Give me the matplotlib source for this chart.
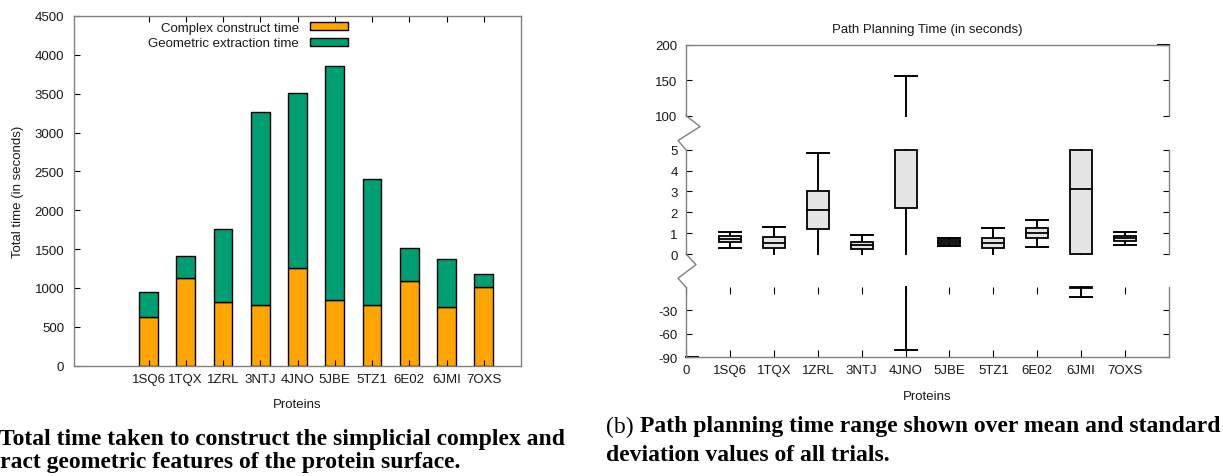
import numpy as np
import matplotlib.pyplot as plt
from matplotlib.patches import Rectangle, Patch
from matplotlib.lines import Line2D

plt.rcParams['font.family'] = ['Liberation Sans', 'DejaVu Sans']
plt.rcParams['font.size'] = 9.5
plt.rcParams['axes.unicode_minus'] = False
plt.rcParams['text.color'] = '#1a1a1a'
plt.rcParams['xtick.color'] = 'k'
plt.rcParams['ytick.color'] = 'k'
plt.rcParams['xtick.labelcolor'] = '#1a1a1a'
plt.rcParams['ytick.labelcolor'] = '#1a1a1a'

proteins = ["1SQ6", "1TQX", "1ZRL", "3NTJ", "4JNO", "5JBE", "5TZ1", "6E02", "6JMI", "7OXS"]

# (a) stacked times, seconds
construct_time = [631, 1134, 816, 777, 1258, 842, 777, 1095, 751, 1009]
extract_time = [314, 283, 949, 2482, 2246, 3014, 1628, 425, 619, 167]

# (b) path planning time stats, seconds
whisker_low = [0.30, -0.3, -0.3, -0.3, -80.6, 0.37, -0.3, 0.35, -13.8, 0.42]
box_low = [0.56, 0.27, 1.20, 0.24, 2.20, 0.48, 0.27, 0.75, -2.3, 0.62]
median = [0.72, 0.54, 2.11, 0.43, 30.0, 0.58, 0.53, 0.99, 3.12, 0.77]
box_high = [0.85, 0.81, 3.02, 0.56, 60.0, 0.67, 0.78, 1.23, 9.0, 0.88]
whisker_high = [1.07, 1.31, 4.86, 0.89, 156.0, 0.78, 1.26, 1.65, 20.0, 1.07]

W, H = 1223, 477
SPINE = '#808080'
fig = plt.figure(figsize=(W / 100, H / 100), dpi=100)


def place(x0, y0, x1, y1):
    return [x0 / W, 1 - y1 / H, (x1 - x0) / W, (y1 - y0) / H]


# ---------- (a) stacked bars ----------
ax1 = fig.add_axes(place(74, 17, 521, 366.7))
x = np.arange(len(proteins))
ax1.bar(x, construct_time, 0.5, color='#ffa500', edgecolor='k', lw=1)
ax1.bar(x, extract_time, 0.5, bottom=construct_time, color='#009e73', edgecolor='k', lw=1)
ax1.set_xlim(-2, 10)
ax1.set_ylim(0, 4500)
ax1.set_yticks(np.arange(0, 4501, 500))
ax1.set_xticks(x)
ax1.set_xticklabels(proteins)
ax1.tick_params(direction='in', length=4, top=True, right=False, pad=5)
ax1.tick_params(axis='y', pad=7)
for s in ax1.spines.values():
    s.set_color(SPINE)
    s.set_linewidth(1)

handles = [Patch(fc='#ffa500', ec='k', lw=1), Patch(fc='#009e73', ec='k', lw=1)]
ax1.legend(handles, ['Complex construct time', 'Geometric extraction time'],
           loc='upper right', bbox_to_anchor=(348 / W, 1 - 23 / H),
           bbox_transform=fig.transFigure, frameon=False, markerfirst=False,
           handlelength=2.9, handleheight=0.55, handletextpad=0.8,
           labelspacing=0.25, borderpad=0, borderaxespad=0)

fig.text(18 / W, 1 - 191.8 / H, 'Total time (in seconds)', rotation=90, ha='center', va='center')
fig.text(297.5 / W, 1 - 405 / H, 'Proteins', ha='center', va='center')

# ---------- (b) broken-axis box plot ----------
top = fig.add_axes(place(686, 45.7, 1169, 116.7))
mid = fig.add_axes(place(686, 150.7, 1169, 255))
bot = fig.add_axes(place(686, 288.3, 1169, 358.3))
panels = [(top, 100, 200, [100, 150, 200]),
          (mid, 0, 5, [0, 1, 2, 3, 4, 5]),
          (bot, -90, -1, [-30, -60, -90])]
pos = np.arange(1, len(proteins) + 1)
bw = 0.5
LW = 1.4


def draw_boxes(ax, lo, hi):
    for i, p in enumerate(pos):
        a, b = max(whisker_low[i], lo), min(whisker_high[i], hi)
        if a < b:
            ax.plot([p, p], [a, b], color='k', lw=LW, zorder=2, clip_on=False)
        for v in (whisker_low[i], whisker_high[i]):
            if lo < v < hi:
                ax.plot([p - bw / 2, p + bw / 2], [v, v], color='k', lw=LW, zorder=2, clip_on=False)
        a, b = max(box_low[i], lo), min(box_high[i], hi)
        if a < b:
            ax.add_patch(Rectangle((p - bw / 2, a), bw, b - a, fc='#e5e5e5', ec='k',
                                   lw=1.3, zorder=3, clip_on=False))
        if lo < median[i] < hi:
            ax.plot([p - bw / 2, p + bw / 2], [median[i], median[i]], color='k', lw=1.3,
                    zorder=4, clip_on=False)


for ax, lo, hi, ticks in panels:
    ax.set_xlim(0, 11)
    ax.set_ylim(lo, hi)
    ax.set_yticks(ticks)
    ax.tick_params(axis='y', direction='in', length=4, left=True, right=True, pad=6)
    for s in ax.spines.values():
        s.set_color(SPINE)
        s.set_linewidth(1)
    draw_boxes(ax, lo, hi)

top.spines['bottom'].set_visible(False)
top.set_xticks([])
mid.spines['top'].set_visible(False)
mid.spines['bottom'].set_visible(False)
mid.set_xticks([])
bot.spines['top'].set_visible(False)
bot.set_xticks(np.arange(0, 11))
bot.set_xticklabels(['0'] + proteins)
bot.tick_params(axis='x', direction='in', length=5, top=True, bottom=True, pad=5)

# heavier end ticks
bot.plot([0, 12 / 483], [-90, -90], transform=bot.get_yaxis_transform(), color='k', lw=1.5, clip_on=False)
top.plot([1 - 11 / 483, 1], [200, 200], transform=top.get_yaxis_transform(), color='k', lw=1.5, clip_on=False)

# break marks on the left axis
for y0, y1, d1, d2 in [(116.7, 150.7, 14, -22), (255, 288.3, 10, -18)]:
    ym1 = y0 + (y1 - y0) * 0.32
    ym2 = y1 - (y1 - y0) * 0.27
    xs = [686, 686 + d1, 686 + d1 + d2, 686]
    ys = [y0, ym1, ym2, y1]
    fig.add_artist(Line2D([v / W for v in xs], [1 - v / H for v in ys],
                          color=SPINE, lw=1, transform=fig.transFigure))

fig.text(927.5 / W, 1 - 30 / H, 'Path Planning Time (in seconds)', ha='center', va='center')
fig.text(927.5 / W, 1 - 397 / H, 'Proteins', ha='center', va='center')

# ---------- captions ----------
r = fig.canvas.get_renderer()
serif = 'Liberation Serif'
fs0 = 14
tb = fig.text(606 / W, 1 - 427 / H, '(b)', fontsize=fs0, family=serif, color='k', va='center')
tt = fig.text(0, 1 - 427 / H, 'Path planning time range shown over mean and standard',
              fontsize=fs0, family=serif, weight='bold', color='k', va='center')
wb = tb.get_window_extent(r).width
ws = fs0 * 0.25 * 100 / 72
wt = tt.get_window_extent(r).width
k = (1220 - 606) / (wb + ws + wt)
fs = fs0 * k
tb.set_fontsize(fs)
tt.set_fontsize(fs)
tt.set_x((606 + (wb + ws) * k) / W)
fig.text(606 / W, 1 - 456 / H, 'deviation values of all trials.', fontsize=fs, family=serif,
         weight='bold', color='k', va='center')

fig.text(-1 / W, 1 - 439 / H, 'Total time taken to construct the simplicial complex and',
         fontsize=fs, family=serif, weight='bold', color='k', va='center')
te = fig.text(0, 0, 'ext', fontsize=fs, family=serif, weight='bold')
we = te.get_window_extent(r).width
te.remove()
fig.text(-we / W, 1 - 463 / H, 'extract geometric features of the protein surface.',
         fontsize=fs, family=serif, weight='bold', color='k', va='center')

fig.savefig('out.png', dpi=100)
